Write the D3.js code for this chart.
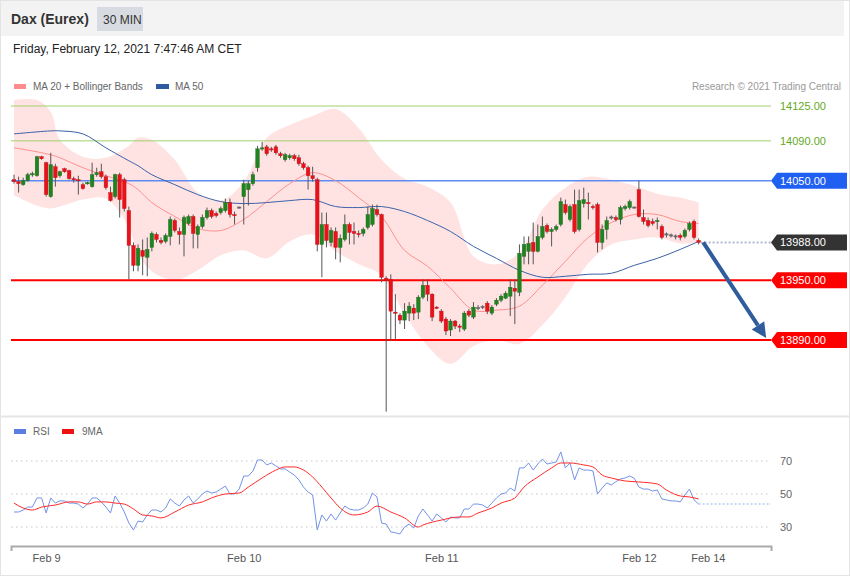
<!DOCTYPE html>
<html><head><meta charset="utf-8">
<script src="https://cdn.jsdelivr.net/npm/d3@7"></script>
<style>
html,body{margin:0;padding:0;background:#fff;}
svg{display:block;}
</style></head><body>
<svg id="chart" width="850" height="576"></svg>
<script>
// ---------------- DATA ----------------
const opens = [
14051,14049,14046,14050,14056,14055,14074,14068,14034,14064,
14055,14062,14060,14052,14051,14046,14047,14044,14056,14059,
14054,14038,14034,14056,14051,14020,13985,13965,13980,13973,
13983,13996,13990,13989,13994,14010,13999,13996,14007,14014,
13996,14004,14013,14020,14017,14018,14020,14028,14016,14023,
14034,14041,14047,14063,14082,14084,14082,14084,14077,14071,
14073,14075,14073,14067,14063,14055,14051,13986,14006,13988,
13999,13983,13991,14006,13999,13997,13997,14003,14006,14021,
14016,13952,13951,13918,13915,13910,13917,13922,13918,13933,
13945,13936,13923,13919,13911,13900,13909,13904,13901,13919,
13913,13922,13923,13927,13917,13926,13930,13932,13934,13942,
13938,13974,13979,13988,13979,13993,14005,13999,14001,14006,
14026,14011,14026,14001,14027,14028,14024,14026,13988,14001,
14013,14013,14011,14022,14023,14023,14041,14013,14010,14009,
14009,14004,13996,13995,13994,13995,13994,14001,14009,13990];
const highs = [
14056,14054,14053,14058,14059,14075,14075,14069,14078,14067,
14060,14063,14061,14054,14055,14048,14049,14068,14063,14067,
14056,14044,14057,14058,14053,14024,13988,13986,13991,13993,
13999,13998,13993,13997,14014,14012,14003,14015,14016,14016,
14006,14016,14023,14022,14019,14024,14032,14032,14019,14024,
14051,14050,14059,14085,14089,14086,14084,14086,14079,14078,
14077,14077,14076,14069,14065,14064,14053,14018,14018,14003,
14003,13996,14016,14008,14008,14000,14003,14024,14026,14026,
14017,13954,13956,13936,13917,13927,13928,13926,13935,13951,
13951,13937,13924,13921,13913,13911,13910,13906,13919,13921,
13928,13925,13925,13929,13925,13932,13936,13939,13951,13951,
13986,13994,13994,14008,14006,14014,14007,14003,14006,14033,
14031,14026,14041,14041,14043,14038,14026,14028,14006,14014,
14015,14015,14025,14026,14031,14024,14050,14021,14013,14012,
14013,14006,13998,13997,13996,13997,14002,14009,14011,13992];
const lows = [
14047,14038,14045,14049,14054,14054,14071,14034,14033,14044,
14053,14058,14051,14048,14036,14041,14046,14043,14054,14052,
14041,14029,14032,14013,14019,13951,13959,13959,13955,13954,
13979,13988,13986,13987,13985,13998,13986,13974,14005,13982,
13982,14002,14011,14012,14013,14016,14018,14013,14006,14022,
14006,14025,14045,14059,14080,14075,14079,14076,14073,14069,
14071,14070,14065,14061,14041,14049,13979,13953,13983,13984,
13971,13968,13989,13986,13986,13993,13994,14001,14004,14014,
13948,13818,13889,13891,13906,13901,13909,13910,13911,13931,
13929,13909,13921,13907,13895,13894,13901,13898,13899,13913,
13911,13920,13921,13916,13915,13924,13928,13931,13914,13906,
13934,13966,13966,13966,13978,13991,13997,13984,13999,14004,
14016,14009,13997,13999,14023,14011,14021,13978,13981,13991,
14011,14009,14006,14020,14021,14022,14013,14006,14003,14005,
14001,13991,13993,13993,13991,13990,13992,13999,13991,13986];
const closes = [
14049,14047,14050,14056,14057,14074,14072,14036,14066,14053,
14059,14059,14052,14051,14050,14042,14048,14056,14058,14054,
14043,14030,14056,14031,14022,13985,13965,13982,13974,13981,
13997,13991,13988,13995,14011,14000,13996,14013,14014,13997,
14004,14013,14020,14014,14015,14022,14028,14016,14015,14023,
14047,14047,14056,14082,14083,14077,14081,14078,14075,14076,
14075,14072,14067,14063,14055,14052,13986,14006,13990,14000,
13983,13992,14006,13998,13997,13996,14001,14016,14022,14016,
13953,13950,13919,13917,13910,13919,13924,13917,13933,13945,
13936,13913,13922,13909,13899,13909,13904,13903,13917,13915,
13923,13922,13923,13919,13923,13930,13934,13937,13943,13939,
13977,13986,13987,13979,13994,14004,13999,14001,14004,14029,
14018,14024,13999,14030,14031,14027,14023,13988,14001,14010,
14013,14011,14023,14024,14029,14023,14014,14009,14005,14007,
14010,13993,13996,13995,13994,13993,14000,14007,13993,13988];

// indicator readings (candle index where read)
const bandIdx = [0,5,8,10,15,20,25,27,30,35,40,45,50,55,60,65,70,75,80,85,90,95,100,105,110,115,120,125,130,135,140,145,149];
const bbUpper = [14131,14131,14119,14091,14074,14073,14085,14093,14091,14071,14038,14030,14049,14093,14106,14115,14122,14103,14071,14052,14044,14028,13974,13966,13978,14021,14043,14054,14051,14045,14037,14033,14028];
const bbLower = [14035,14025,14022,14024,14031,14032,14003,13976,13959,13950,13960,13975,13980,13972,13989,13996,13979,13966,13955,13916,13884,13866,13884,13890,13886,13905,13933,13967,13986,13991,13993,13987,13988];
const ma20 = [14083,14079,14076,14073,14063,14055,14047,14041,14028,14014,14002,14000,14011,14029,14047,14058,14050,14033,14014,13980,13964,13942,13920,13920,13924,13945,13969,13993,14008,14016,14016,14009,14007];
const ma50 = [14097,14099,14100,14100,14097,14083,14070,14065,14056,14046,14036,14029,14027,14028,14030,14031,14024,14023,14024,14019,14010,13999,13984,13972,13960,13953,13954,13956,13957,13965,13972,13981,13989];

const rsi = [
39.1,39.1,40.3,42.1,42.1,47.6,47.6,38.5,47.6,44.5,
45.8,45.8,44.5,44.5,43.9,41.5,43.9,47.6,47.6,45.2,
42.1,38.5,48.8,44.5,39.1,32.4,28.2,33.6,33.0,37.3,
40.3,40.3,39.1,41.5,47.0,44.5,42.7,46.4,48.8,44.5,
47.0,50.0,51.8,50.6,51.2,53.0,54.8,50.0,50.0,53.0,
60.9,60.9,63.9,70.6,70.6,67.6,68.8,67.0,65.2,65.2,
63.3,61.5,58.5,54.2,51.2,49.4,28.2,37.3,33.6,37.9,
34.2,38.5,42.7,40.9,40.3,40.3,41.5,43.9,50.6,48.2,
32.4,31.8,27.0,26.5,25.8,30.0,31.8,29.4,36.7,40.9,
37.3,33.6,37.9,35.5,33.0,36.1,35.5,35.5,40.9,40.9,
43.9,43.9,43.3,41.5,44.5,47.6,50.0,50.6,53.6,51.8,
65.8,65.8,68.8,64.5,68.2,71.2,68.2,68.8,69.4,75.5,
65.8,68.8,58.5,65.8,64.5,64.5,64.0,50.0,53.6,56.7,
55.5,57.5,59.1,59.7,60.9,59.5,54.2,53.0,53.0,51.8,
52.4,47.0,46.4,45.8,45.8,45.2,49.4,53.0,46.4,43.9];
const rsiMaIdx = [0,2,4,6,9,12,14,16,18,20,22,24,26,28,30,32,35,38,41,43,46,49,51,54,57,59,61,63,65,67,69,71,74,77,79,82,85,88,89,93,97,99,101,104,106,109,111,114,117,119,121,124,126,128,130,133,136,140,142,145,147,149];
const rsiMa = [44.5,41.5,40.3,42.1,43.3,45.2,45.2,43.9,45.2,45.2,44.5,43.9,40.9,37.3,36.7,35.5,39.1,43.3,45.2,47.6,50.0,50.6,54.2,59.7,64.5,66.4,66.4,64.5,60.3,54.2,47.6,41.5,37.3,39.1,42.7,39.1,35.5,30.0,31.2,34.2,36.1,36.1,38.5,41.5,44.5,47.6,54.2,60.3,65.8,68.8,68.8,67.6,66.4,61.5,59.7,57.9,57.3,56.1,52.4,48.8,48.2,47.0];

const dateLabels = ["Feb 9","Feb 10","Feb 11","Feb 12","Feb 14"];
const dateIdx = [7,50,93,136,151];
const resistances = [14125, 14090];
const pivot = 14050;
const lastPrice = 13988;
const supports = [13950, 13890];
const rsiLevels = [70, 50, 30];

// ---------------- DRAW ----------------
const W = 850, H = 576, L = 11, R = 771;
const FONT = '"Liberation Sans", Arial, Helvetica, sans-serif';
const svg = d3.select('#chart').attr('font-family', FONT);

const x = d3.scaleLinear().domain([-0.653, 164.75]).range([L, R]);
const y = d3.scaleLinear().domain([13890, 14125]).range([340, 106]);
const yr = d3.scaleLinear().domain([30, 70]).range([527, 461]);

svg.append('rect').attr('width', W).attr('height', H).attr('fill', '#fff');
// frame
svg.append('rect').attr('x', 0.5).attr('y', 0.5).attr('width', W - 1).attr('height', H - 1)
  .attr('fill', 'none').attr('stroke', '#e4e4e4');
svg.append('line').attr('x1', 0).attr('x2', W).attr('y1', 416.5).attr('y2', 416.5)
  .attr('stroke', '#e6e6e6').attr('stroke-width', 2);

// header
svg.append('rect').attr('x', 1).attr('y', 1).attr('width', 843).attr('height', 35).attr('fill', '#f3f3f3');
svg.append('text').attr('x', 11).attr('y', 24).text('Dax (Eurex)')
  .attr('font-size', 14).attr('font-weight', 'bold').attr('fill', '#333');
svg.append('rect').attr('x', 97).attr('y', 7).attr('width', 46).attr('height', 24).attr('fill', '#d8dce2');
svg.append('text').attr('x', 103).attr('y', 24).text('30 MIN').attr('font-size', 12).attr('fill', '#333');
svg.append('text').attr('x', 13).attr('y', 53).text('Friday, February 12, 2021 7:47:46 AM CET')
  .attr('font-size', 12).attr('fill', '#222');

// legend
svg.append('rect').attr('x', 14).attr('y', 84).attr('width', 12).attr('height', 5).attr('fill', '#ff8c8c');
svg.append('text').attr('x', 33).attr('y', 90).text('MA 20 + Bollinger Bands').attr('font-size', 10).attr('fill', '#666');
svg.append('rect').attr('x', 156).attr('y', 84).attr('width', 13).attr('height', 5).attr('fill', '#2f5a9e');
svg.append('text').attr('x', 175).attr('y', 90).text('MA 50').attr('font-size', 10).attr('fill', '#666');
svg.append('text').attr('x', 841).attr('y', 90).attr('text-anchor', 'end')
  .text('Research \u00a9 2021 Trading Central').attr('font-size', 10).attr('fill', '#999');

// bollinger band
const band = bandIdx.map((i, k) => ({ i, up: bbUpper[k], lo: bbLower[k], m20: ma20[k], m50: ma50[k] }));
const curve = d3.curveCatmullRom.alpha(0.5);
svg.append('path').datum(band)
  .attr('d', d3.area().x(d => x(d.i)).y0(d => y(d.lo)).y1(d => y(d.up)).curve(curve))
  .attr('fill', '#ffe3e3');

// level lines
resistances.forEach(v => {
  svg.append('line').attr('x1', L).attr('x2', R).attr('y1', y(v)).attr('y2', y(v))
    .attr('stroke', '#9fd06a').attr('stroke-width', 1);
});
svg.append('line').attr('x1', L).attr('x2', R).attr('y1', y(pivot)).attr('y2', y(pivot))
  .attr('stroke', '#5c8cf2').attr('stroke-width', 1.6);
supports.forEach(v => {
  svg.append('line').attr('x1', L).attr('x2', R).attr('y1', y(v)).attr('y2', y(v))
    .attr('stroke', '#ff0000').attr('stroke-width', 2);
});
const lastI = closes.length - 1;
svg.append('line').attr('x1', x(lastI) + 2).attr('x2', R).attr('y1', y(lastPrice)).attr('y2', y(lastPrice))
  .attr('stroke', '#aebad0').attr('stroke-width', 2).attr('stroke-dasharray', '2,2');

// moving averages
svg.append('path').datum(band)
  .attr('d', d3.line().x(d => x(d.i)).y(d => y(d.m20)).curve(curve))
  .attr('fill', 'none').attr('stroke', '#ff8f8f').attr('stroke-width', 1);
svg.append('path').datum(band)
  .attr('d', d3.line().x(d => x(d.i)).y(d => y(d.m50)).curve(curve))
  .attr('fill', 'none').attr('stroke', '#3b62a8').attr('stroke-width', 1);

// candles
const candles = d3.range(closes.length).map(i => ({ i, o: opens[i], h: highs[i], l: lows[i], c: closes[i] }));
const cg = svg.append('g');
cg.selectAll('line.wick').data(candles).join('line').attr('class', 'wick')
  .attr('x1', d => x(d.i)).attr('x2', d => x(d.i))
  .attr('y1', d => y(d.h)).attr('y2', d => y(d.l))
  .attr('stroke', '#555').attr('stroke-width', 1);
cg.selectAll('rect.body').data(candles).join('rect').attr('class', 'body')
  .attr('x', d => x(d.i) - 1.8)
  .attr('width', 3.6)
  .attr('y', d => d.o === d.c ? y(d.o) - 0.6 : y(Math.max(d.o, d.c)))
  .attr('height', d => d.o === d.c ? 1.2 : Math.max(1.2, Math.abs(y(d.o) - y(d.c))))
  .attr('fill', d => d.c > d.o ? '#1f841f' : (d.c < d.o ? '#e8121a' : '#666'))
  .attr('stroke', d => d.c > d.o ? '#1a6a1a' : (d.c < d.o ? '#c40d14' : '#666'))
  .attr('stroke-width', 0.4);

// forecast arrow
const ax0 = x(lastI + 1), ay0 = y(lastPrice);
const ax1 = x(lastI + 14.7), ay1 = y(supports[1]) - 2;
const ang = Math.atan2(ay1 - ay0, ax1 - ax0);
const hl = 15, hw = 7.5;
const bx = ax1 - hl * Math.cos(ang), by = ay1 - hl * Math.sin(ang);
svg.append('line').attr('x1', ax0).attr('y1', ay0).attr('x2', bx).attr('y2', by)
  .attr('stroke', '#2f5c9c').attr('stroke-width', 4);
svg.append('polygon')
  .attr('points', [[ax1, ay1], [bx + hw * Math.sin(ang), by - hw * Math.cos(ang)], [bx - hw * Math.sin(ang), by + hw * Math.cos(ang)]].map(p => p.join(',')).join(' '))
  .attr('fill', '#2f5c9c');

// right labels
function boxLabel(v, fill) {
  const cy = y(v);
  svg.append('polygon')
    .attr('points', [[R, cy], [R + 6, cy - 8], [847, cy - 8], [847, cy + 8], [R + 6, cy + 8]].map(p => p.join(',')).join(' '))
    .attr('fill', fill);
  svg.append('text').attr('x', 780).attr('y', cy).attr('dy', '0.36em').text(v.toFixed(2))
    .attr('font-size', 11).attr('fill', '#fff');
}
resistances.forEach(v => {
  svg.append('text').attr('x', 780).attr('y', y(v)).attr('dy', '0.36em').text(v.toFixed(2))
    .attr('font-size', 11).attr('fill', '#62a81e');
});
boxLabel(pivot, '#1f5ff2');
boxLabel(lastPrice, '#333333');
supports.forEach(v => boxLabel(v, '#ff0000'));

// ---------------- RSI PANEL ----------------
svg.append('rect').attr('x', 14).attr('y', 429).attr('width', 12).attr('height', 5).attr('fill', '#5b7fe0');
svg.append('text').attr('x', 33).attr('y', 435).text('RSI').attr('font-size', 10).attr('fill', '#666');
svg.append('rect').attr('x', 62).attr('y', 429).attr('width', 12).attr('height', 5).attr('fill', '#ee1111');
svg.append('text').attr('x', 82).attr('y', 435).text('9MA').attr('font-size', 10).attr('fill', '#666');

rsiLevels.forEach(v => {
  svg.append('line').attr('x1', L).attr('x2', R - 3).attr('y1', yr(v)).attr('y2', yr(v))
    .attr('stroke', '#c4c4c4').attr('stroke-width', 1).attr('stroke-dasharray', '1.5,3.5');
  svg.append('text').attr('x', 780).attr('y', yr(v)).attr('dy', '0.36em').text(v)
    .attr('font-size', 11).attr('fill', '#666');
});
svg.append('line').attr('x1', x(lastI)).attr('x2', R).attr('y1', yr(rsi[lastI])).attr('y2', yr(rsi[lastI]))
  .attr('stroke', '#bccbf2').attr('stroke-width', 1.5).attr('stroke-dasharray', '2,2');
svg.append('path').datum(rsi)
  .attr('d', d3.line().x((d, i) => x(i)).y(d => yr(d)))
  .attr('fill', 'none').attr('stroke', '#7393e6').attr('stroke-width', 1);
svg.append('path').datum(rsiMaIdx.map((i, k) => ({ i, v: rsiMa[k] })))
  .attr('d', d3.line().x(d => x(d.i)).y(d => yr(d.v)).curve(d3.curveMonotoneX))
  .attr('fill', 'none').attr('stroke', '#ff2a2a').attr('stroke-width', 1);

// x axis
const axis = d3.axisBottom(x).tickValues(dateIdx).tickFormat((d, k) => dateLabels[k])
  .tickSizeInner(0).tickSizeOuter(5).tickPadding(8);
const ag = svg.append('g').attr('transform', 'translate(0,546)').call(axis);
ag.select('.domain').attr('stroke', '#aaa').attr('stroke-width', 2);
ag.selectAll('text').attr('font-size', 11).attr('fill', '#555').attr('font-family', FONT);
</script>
</body></html>
